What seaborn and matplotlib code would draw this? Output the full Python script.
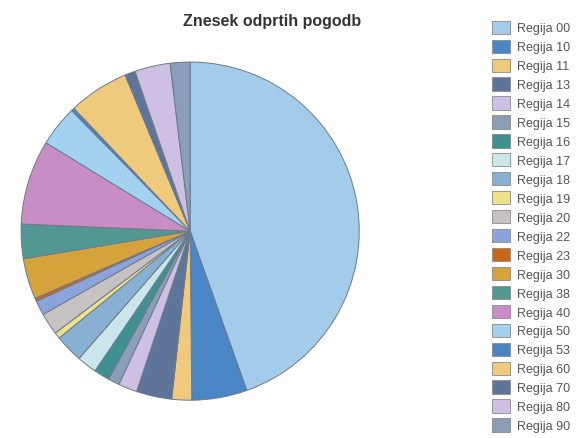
import matplotlib
matplotlib.use("Agg")
import matplotlib.pyplot as plt
from matplotlib.patches import Patch
import seaborn as sns

regions = ["Regija 00", "Regija 10", "Regija 11", "Regija 13", "Regija 14", "Regija 15",
           "Regija 16", "Regija 17", "Regija 18", "Regija 19", "Regija 20", "Regija 22",
           "Regija 23", "Regija 30", "Regija 38", "Regija 40", "Regija 50", "Regija 53",
           "Regija 60", "Regija 70", "Regija 80", "Regija 90"]
shares = [44.7, 5.3, 1.9, 3.4, 1.8, 1.1, 1.5, 1.9, 2.7, 0.6, 2.1, 1.4,
          0.3, 3.9, 3.3, 8.1, 3.9, 0.3, 5.8, 1.0, 3.4, 1.9]
colors = ["#a3cbea", "#4a86c5", "#efca7c", "#5f7499", "#cdc0e2", "#8c9db7",
          "#3f9191", "#cbe6ea", "#88b0d2", "#efe08c", "#c6c2c2", "#8ba5dc",
          "#c8661a", "#d6a23c", "#529791", "#c98dc5", "#a3d2f0", "#4a83c2",
          "#efca7c", "#5f7499", "#cdc0e2", "#8c9db7"]
title = "Znesek odprtih pogodb"

sns.set_style("white")
plt.rcParams["font.family"] = ["Liberation Sans", "DejaVu Sans"]

fig = plt.figure(figsize=(5.78, 4.39), dpi=100)
ax = fig.add_axes([0.035, 0.084, 0.588, 0.7745])
ax.pie(shares, colors=colors, startangle=90, counterclock=False,
       wedgeprops={"edgecolor": "#6d7a8c", "linewidth": 0.7})
ax.set_xlim(-1.005, 1.005)
ax.set_ylim(-1.005, 1.005)
ax.set_aspect("equal")
ax.axis("off")

fig.text(0.47, 0.95, title, ha="center", va="center",
         fontsize=11.5, fontweight="bold", color="#333333")

handles = [Patch(facecolor=c, edgecolor="#8a8a8a", linewidth=0.6) for c in colors]
leg = fig.legend(handles, regions, loc="upper left", bbox_to_anchor=(0.842, 0.962),
                 frameon=False, fontsize=9, labelspacing=0.41, handlelength=1.45,
                 handleheight=1.25, handletextpad=0.6, borderaxespad=0)
for t in leg.get_texts():
    t.set_color("#555555")

fig.savefig("out.png", dpi=100)
